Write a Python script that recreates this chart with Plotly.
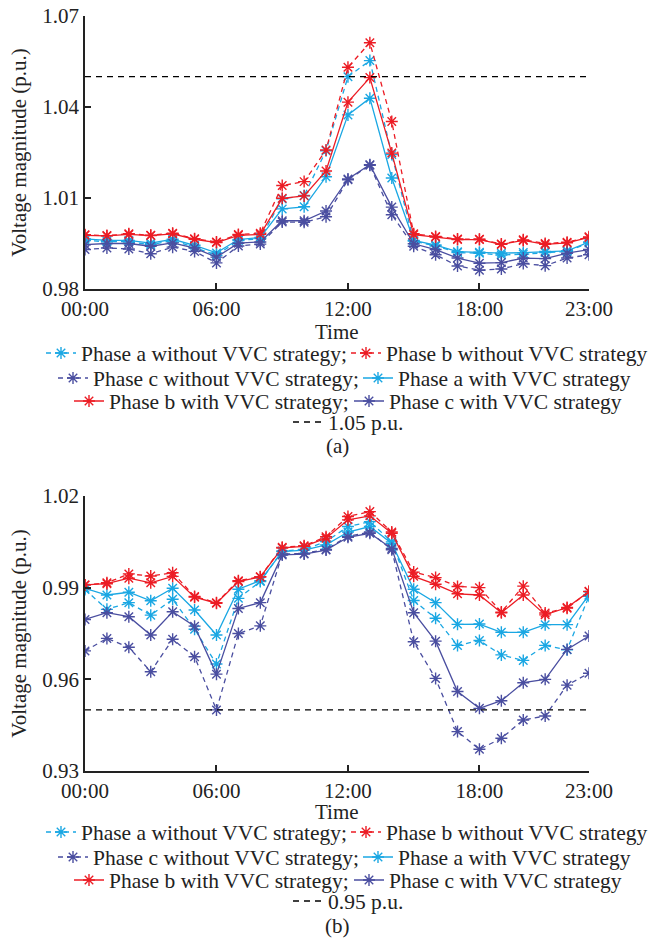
import plotly.graph_objects as go

hours = list(range(24))
xtick_vals = [0, 6, 12, 18, 23]
xtick_text = ["00:00", "06:00", "12:00", "18:00", "23:00"]

# ---------- (a) ----------
a_top_without = [0.9960, 0.9956, 0.9956, 0.9946, 0.9960, 0.9937, 0.9911, 0.9960, 0.9966, 1.0097, 1.0108, 1.0256,
                 1.0500, 1.0553, 1.0243, 0.9958, 0.9942, 0.9920, 0.9918, 0.9912, 0.9915, 0.9920, 0.9924, 0.9952]
b_top_without = [0.9979, 0.9976, 0.9982, 0.9977, 0.9984, 0.9966, 0.9955, 0.9980, 0.9984, 1.0141, 1.0154, 1.0258,
                 1.0531, 1.0612, 1.0352, 0.9982, 0.9973, 0.9965, 0.9964, 0.9948, 0.9962, 0.9950, 0.9954, 0.9972]
c_top_without = [0.9930, 0.9935, 0.9932, 0.9916, 0.9938, 0.9924, 0.9886, 0.9942, 0.9948, 1.0021, 1.0020, 1.0038,
                 1.0160, 1.0208, 1.0045, 0.9941, 0.9913, 0.9876, 0.9862, 0.9866, 0.9884, 0.9877, 0.9902, 0.9913]
a_top_with = [0.9965, 0.9960, 0.9960, 0.9951, 0.9964, 0.9944, 0.9919, 0.9963, 0.9970, 1.0064, 1.0071, 1.0170,
              1.0374, 1.0429, 1.0166, 0.9960, 0.9945, 0.9923, 0.9921, 0.9918, 0.9920, 0.9924, 0.9926, 0.9955]
b_top_with = [0.9977, 0.9975, 0.9980, 0.9976, 0.9982, 0.9964, 0.9953, 0.9977, 0.9980, 1.0099, 1.0107, 1.0189,
              1.0416, 1.0497, 1.0248, 0.9979, 0.9971, 0.9963, 0.9963, 0.9947, 0.9960, 0.9947, 0.9952, 0.9970]
c_top_with = [0.9946, 0.9950, 0.9950, 0.9941, 0.9952, 0.9935, 0.9905, 0.9951, 0.9955, 1.0025, 1.0025, 1.0057,
              1.0163, 1.0210, 1.0070, 0.9949, 0.9930, 0.9902, 0.9885, 0.9887, 0.9902, 0.9900, 0.9918, 0.9930]
top_limit = 1.05

# ---------- (b) ----------
a_bot_without = [0.9894, 0.9829, 0.9851, 0.9810, 0.9862, 0.9764, 0.9650, 0.9865, 0.9920, 1.0020, 1.0025, 1.0051,
                 1.0100, 1.0116, 1.0050, 0.9858, 0.9800, 0.9711, 0.9727, 0.9680, 0.9662, 0.9711, 0.9697, 0.9872]
b_bot_without = [0.9909, 0.9916, 0.9945, 0.9938, 0.9949, 0.9871, 0.9851, 0.9923, 0.9936, 1.0032, 1.0037, 1.0067,
                 1.0133, 1.0149, 1.0082, 0.9951, 0.9933, 0.9904, 0.9900, 0.9820, 0.9905, 0.9817, 0.9833, 0.9888]
c_bot_without = [0.9693, 0.9734, 0.9705, 0.9625, 0.9731, 0.9674, 0.9500, 0.9750, 0.9775, 1.0010, 1.0012, 1.0025,
                 1.0068, 1.0082, 1.0024, 0.9723, 0.9603, 0.9429, 0.9371, 0.9407, 0.9467, 0.9480, 0.9581, 0.9620]
a_bot_with = [0.9898, 0.9876, 0.9885, 0.9857, 0.9898, 0.9827, 0.9745, 0.9895, 0.9923, 1.0018, 1.0023, 1.0040,
              1.0082, 1.0100, 1.0045, 0.9895, 0.9851, 0.9780, 0.9781, 0.9754, 0.9754, 0.9779, 0.9779, 0.9876]
b_bot_with = [0.9909, 0.9913, 0.9931, 0.9916, 0.9937, 0.9869, 0.9849, 0.9920, 0.9935, 1.0030, 1.0035, 1.0062,
              1.0122, 1.0135, 1.0078, 0.9937, 0.9911, 0.9880, 0.9876, 0.9818, 0.9876, 0.9811, 0.9835, 0.9887]
c_bot_with = [0.9796, 0.9818, 0.9805, 0.9745, 0.9821, 0.9774, 0.9617, 0.9832, 0.9851, 1.0007, 1.0010, 1.0023,
              1.0065, 1.0078, 1.0028, 0.9818, 0.9725, 0.9560, 0.9505, 0.9530, 0.9589, 0.9600, 0.9698, 0.9742]
bot_limit = 0.95

CYAN = "#1aa7e3"
RED = "#ec1c24"
NAVY = "#4a4ea0"
FONT = "Liberation Serif"
FS = 21
FS_LEG = 21.5
DASH = "5px,4px"

names = ["Phase a without VVC strategy;", "Phase b without VVC strategy",
         "Phase c without VVC strategy;", "Phase a with VVC strategy",
         "Phase b with VVC strategy;", "Phase c with VVC strategy"]
colors = [CYAN, RED, NAVY, CYAN, RED, NAVY]
dashes = [DASH, DASH, DASH, "solid", "solid", "solid"]

W_TOTAL, H_TOTAL = 654, 939
ML, MR, MT, MB = 85, 65, 16, 168
PW = W_TOTAL - ML - MR
PH = H_TOTAL - MT - MB


def py(Y):
    return (H_TOTAL - MB - Y) / PH


def px(X):
    return (X - ML) / PW


# legend item left edges (pixels) and row centres
item_x = [41, 346, 53, 358, 69, 349, 288]
top_rows = [353, 353, 378, 378, 401, 401, 422]
bot_rows = [832, 832, 857, 857, 880, 880, 901]

fig = go.Figure()


def add_panel(series, limit, limit_name, xa, ya, first_legend):
    keys = ["legend" if first_legend + k == 1 else f"legend{first_legend + k}" for k in range(7)]
    for i, (vals, name, col, dsh) in enumerate(zip(series, names, colors, dashes)):
        fig.add_trace(go.Scatter(
            x=hours, y=vals, name=name, mode="lines+markers",
            line=dict(color=col, width=1.3, dash=dsh),
            marker=dict(symbol="asterisk-open", size=10, color=col, line=dict(color=col, width=1.4)),
            xaxis=xa, yaxis=ya, legend=keys[i]))
    fig.add_trace(go.Scatter(
        x=[0, 23], y=[limit, limit], name=limit_name, mode="lines",
        line=dict(color="black", width=1.3, dash="6px,5px"),
        xaxis=xa, yaxis=ya, legend=keys[6]))
    return keys


top_keys = add_panel([a_top_without, b_top_without, c_top_without, a_top_with, b_top_with, c_top_with],
                     top_limit, "1.05 p.u.", "x", "y", 1)
bot_keys = add_panel([a_bot_without, b_bot_without, c_bot_without, a_bot_with, b_bot_with, c_bot_with],
                     bot_limit, "0.95 p.u.", "x2", "y2", 8)

axis_common = dict(showline=True, linecolor="#222", linewidth=1.5, ticks="inside", ticklen=6,
                   tickcolor="#222", tickwidth=1.5, showgrid=False, zeroline=False, automargin=False,
                   tickfont=dict(family=FONT, size=FS, color="#222"))

layout = dict(
    width=W_TOTAL, height=H_TOTAL, margin=dict(l=ML, r=MR, t=MT, b=MB, autoexpand=False),
    paper_bgcolor="white", plot_bgcolor="white",
    font=dict(family=FONT, size=FS, color="#222"),
    showlegend=True,
    xaxis=dict(domain=[0, 1], range=[0, 23], tickvals=xtick_vals, ticktext=xtick_text, anchor="y", **axis_common),
    yaxis=dict(domain=[py(289), 1], range=[0.98, 1.07], tickvals=[0.98, 1.01, 1.04, 1.07],
               ticktext=["0.98", "1.01", "1.04", "1.07"], anchor="x",
               title=dict(text="Voltage magnitude (p.u.)", standoff=10, font=dict(family=FONT, size=FS)),
               **axis_common),
    xaxis2=dict(domain=[0, 1], range=[0, 23], tickvals=xtick_vals, ticktext=xtick_text, anchor="y2", **axis_common),
    yaxis2=dict(domain=[0, py(496)], range=[0.93, 1.02], tickvals=[0.93, 0.96, 0.99, 1.02],
                ticktext=["0.93", "0.96", "0.99", "1.02"], anchor="x2",
                title=dict(text="Voltage magnitude (p.u.)", standoff=10, font=dict(family=FONT, size=FS)),
                **axis_common),
)

for keys, rows in [(top_keys, top_rows), (bot_keys, bot_rows)]:
    for key, X, Y in zip(keys, item_x, rows):
        layout[key] = dict(orientation="h", x=px(X), xanchor="left", y=py(Y), yanchor="middle",
                           xref="paper", yref="paper", bgcolor="rgba(0,0,0,0)", itemwidth=30,
                           font=dict(family=FONT, size=FS_LEG, color="#222"), tracegroupgap=0)

fig.update_layout(**layout)

for text, Y in [("Time", 332), ("(a)", 446), ("Time", 812), ("(b)", 926)]:
    fig.add_annotation(text=text, x=0.5, y=py(Y), xref="paper", yref="paper", xanchor="center",
                       yanchor="middle", showarrow=False, font=dict(family=FONT, size=FS, color="#222"))

fig.write_html("out.html")
